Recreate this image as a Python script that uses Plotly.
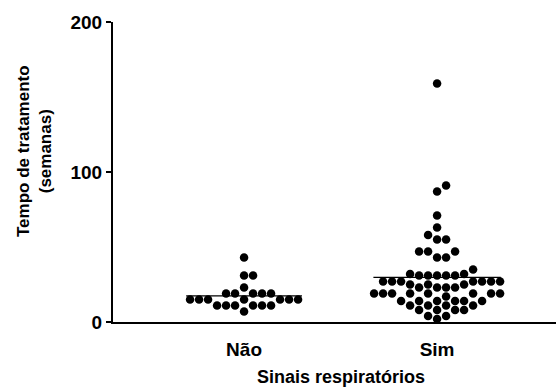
import plotly.graph_objects as go
import numpy as np

categories = ["Não", "Sim"]
nao_values = [43, 31, 31, 23, 19, 19, 19, 19, 19,
              15, 15, 15, 15, 15, 15, 15,
              11, 11, 11, 11, 11, 11, 7]
sim_values = [159, 91, 87, 71, 63, 58, 55, 55, 47, 47, 47, 43, 43, 35, 32, 32,
              31, 31, 31, 31, 31,
              27, 27, 27, 27, 27, 27, 27,
              25, 25, 25, 23, 23, 23, 23,
              19, 19, 19, 19, 19, 19, 19, 19, 17,
              14, 14, 14, 14, 14, 14,
              11, 11, 11, 11, 8, 8, 8, 8, 4, 4, 2]
y_ticks = [0, 100, 200]

W, H = 556, 389
ML, MR, MT, MB = 113, 0, 22, 67
Y_RANGE = [0, 200]
X_RANGE = [-0.679, 1.616]
plot_w = W - ML - MR
plot_h = H - MT - MB
px_per_y = plot_h / (Y_RANGE[1] - Y_RANGE[0])
px_per_x = plot_w / (X_RANGE[1] - X_RANGE[0])

DOT = 8.5
STEP = 9.0
MIN_DIST = 8.6


def swarm_offsets(values):
    order = sorted(range(len(values)), key=lambda i: values[i])
    placed = []
    res = [0.0] * len(values)
    cands = [0.0]
    for j in range(1, 40):
        cands += [j * STEP, -j * STEP]
    for i in order:
        y = values[i] * px_per_y
        for c in cands:
            if all((c - px) ** 2 + (y - py) ** 2 >= MIN_DIST ** 2 for px, py in placed):
                break
        placed.append((c, y))
        res[i] = c / px_per_x
    return res


fig = go.Figure()
groups = [nao_values, sim_values]
half_widths = [0.30, 0.33]
for k, vals in enumerate(groups):
    offs = swarm_offsets(vals)
    xs = [k + o for o in offs]
    fig.add_trace(go.Scatter(x=xs, y=vals, mode="markers",
                             marker=dict(color="black", size=DOT, line=dict(width=0)),
                             cliponaxis=False, showlegend=False, hoverinfo="y"))
    m = float(np.mean(vals))
    fig.add_shape(type="line", xref="x", yref="y", x0=k - half_widths[k], x1=k + half_widths[k],
                  y0=m, y1=m, line=dict(color="black", width=1.2), layer="below")

FONT = "Arial, Liberation Sans, sans-serif"
TICK_SIZE = 19
TITLE_SIZE = 17
fig.update_layout(
    width=W, height=H,
    margin=dict(l=ML, r=MR, t=MT, b=MB, pad=0),
    plot_bgcolor="white", paper_bgcolor="white",
    font=dict(family=FONT, color="black", size=TICK_SIZE, weight="bold"),
    xaxis=dict(range=X_RANGE, tickvals=[0, 1], ticktext=categories, showgrid=False,
               zeroline=False, showline=True, linecolor="black", linewidth=2,
               ticks="", ticklabelstandoff=9,
               tickfont=dict(family=FONT, size=TICK_SIZE, weight="bold")),
    yaxis=dict(range=Y_RANGE, tickvals=y_ticks, showgrid=False, zeroline=False,
               showline=True, linecolor="black", linewidth=2, ticks="outside",
               ticklen=5, tickwidth=2, tickcolor="black",
               tickfont=dict(family=FONT, size=TICK_SIZE, weight="bold")),
    annotations=[
        dict(text="Tempo de tratamento<br>(semanas)", textangle=-90, xref="paper", yref="paper",
             x=(34 - ML) / plot_w, y=(MT + plot_h - 151) / plot_h, xanchor="center", yanchor="middle",
             showarrow=False, font=dict(family=FONT, size=TITLE_SIZE, weight="bold")),
        dict(text="Sinais respiratórios", xref="x", yref="paper", x=0.5,
             y=(MT + plot_h - 377) / plot_h, xanchor="center", yanchor="middle",
             showarrow=False, font=dict(family=FONT, size=TITLE_SIZE + 1, weight="bold")),
    ],
)
fig.write_html("out.html")
